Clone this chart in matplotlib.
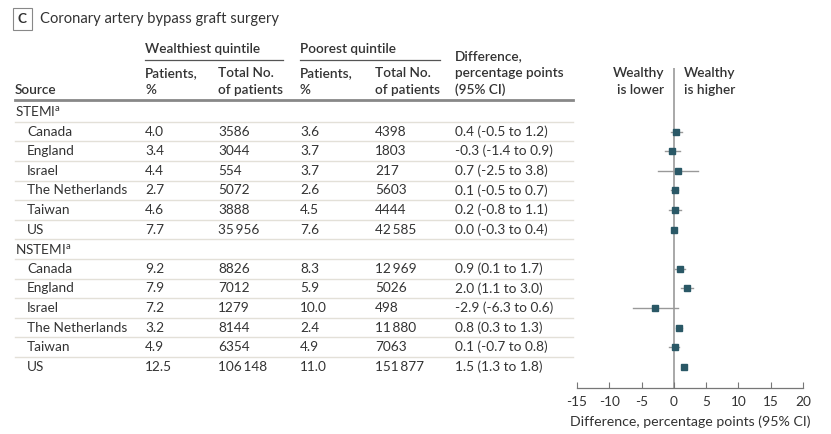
import matplotlib

matplotlib.use("Agg")

import matplotlib.pyplot as plt  # noqa: E402

plt.rcParams["font.family"] = ["Lato", "DejaVu Sans"]
plt.rcParams["mathtext.fontset"] = "custom"
plt.rcParams["mathtext.rm"] = "Lato"
plt.rcParams["axes.unicode_minus"] = False

TITLE = "Coronary artery bypass graft surgery"
groups = ["STEMI$^{\\mathrm{a}}$", "NSTEMI$^{\\mathrm{a}}$"]
countries = ["Canada", "England", "Israel", "The Netherlands", "Taiwan", "US"]

stemi_w_pct = ["4.0", "3.4", "4.4", "2.7", "4.6", "7.7"]
stemi_w_n = ["3586", "3044", "554", "5072", "3888", "35\u2009956"]
stemi_p_pct = ["3.6", "3.7", "3.7", "2.6", "4.5", "7.6"]
stemi_p_n = ["4398", "1803", "217", "5603", "4444", "42\u2009585"]
stemi_diff = [0.4, -0.3, 0.7, 0.1, 0.2, 0.0]
stemi_lo = [-0.5, -1.4, -2.5, -0.5, -0.8, -0.3]
stemi_hi = [1.2, 0.9, 3.8, 0.7, 1.1, 0.4]

nstemi_w_pct = ["9.2", "7.9", "7.2", "3.2", "4.9", "12.5"]
nstemi_w_n = ["8826", "7012", "1279", "8144", "6354", "106\u2009148"]
nstemi_p_pct = ["8.3", "5.9", "10.0", "2.4", "4.9", "11.0"]
nstemi_p_n = ["12\u2009969", "5026", "498", "11\u2009880", "7063", "151\u2009877"]
nstemi_diff = [0.9, 2.0, -2.9, 0.8, 0.1, 1.5]
nstemi_lo = [0.1, 1.1, -6.3, 0.3, -0.7, 1.3]
nstemi_hi = [1.7, 3.0, 0.6, 1.3, 0.8, 1.8]

x_ticks = [-15, -10, -5, 0, 5, 10, 15, 20]

# layout (pixels)
W, H = 831, 434
ROW0, DY = 112, 19.6
COLS = [145, 218, 300, 375, 455]
TXT = "#333333"
SEP = "#e3e0d8"
MARK = "#2a5866"
FS = 9.8


def fmt_ci(d, lo, hi):
    return f"{d:.1f} ({lo:.1f} to {hi:.1f})"


fig = plt.figure(figsize=(W / 100, H / 100), dpi=100)
tab = fig.add_axes([0, 0, 1, 1])
tab.set_xlim(0, W)
tab.set_ylim(H, 0)
tab.axis("off")

# panel title
tab.text(22.5, 19, "C", ha="center", va="center", fontsize=FS, fontweight="bold",
         color=TXT, bbox=dict(boxstyle="square,pad=0.35", fc="white", ec="#888", lw=0.8))
tab.text(40, 19, TITLE, ha="left", va="center", fontsize=10.6, color=TXT)

# column headers
hdr = dict(fontsize=FS, fontweight="semibold", color=TXT, ha="left", va="center")
tab.text(COLS[0], 49, "Wealthiest quintile", **hdr)
tab.text(COLS[2], 49, "Poorest quintile", **hdr)
tab.plot([COLS[0], 283], [60, 60], color="#555", lw=0.9)
tab.plot([COLS[2], 440], [60, 60], color="#555", lw=0.9)
tab.text(15, 90, "Source", **hdr)
for cx in (COLS[0], COLS[2]):
    tab.text(cx, 73, "Patients,", **hdr)
    tab.text(cx, 90, "%", **hdr)
for cx in (COLS[1], COLS[3]):
    tab.text(cx, 73, "Total No.", **hdr)
    tab.text(cx, 90, "of patients", **hdr)
tab.text(COLS[4], 56, "Difference,", **hdr)
tab.text(COLS[4], 73, "percentage points", **hdr)
tab.text(COLS[4], 90, "(95% CI)", **hdr)
tab.plot([15, 573], [100, 100], color="#888", lw=2)

tab.text(664, 73, "Wealthy", **{**hdr, "ha": "right"})
tab.text(664, 90, "is lower", **{**hdr, "ha": "right"})
tab.text(684, 73, "Wealthy", **hdr)
tab.text(684, 90, "is higher", **hdr)

blocks = [
    (groups[0], stemi_w_pct, stemi_w_n, stemi_p_pct, stemi_p_n, stemi_diff, stemi_lo, stemi_hi),
    (groups[1], nstemi_w_pct, nstemi_w_n, nstemi_p_pct, nstemi_p_n, nstemi_diff, nstemi_lo, nstemi_hi),
]

# forest axes, y in row units
ax = fig.add_axes([577 / W, (H - 388) / H, 226 / W, (388 - 68) / H])
ax.set_xlim(-15, 20)
ax.set_ylim((388 - ROW0) / DY, (68 - ROW0) / DY)

row = 0
for name, wp, wn, pp, pn, d, lo, hi in blocks:
    y = ROW0 + row * DY
    tab.text(15, y, name, fontsize=FS, color=TXT, ha="left", va="center")
    if row > 0:
        tab.plot([15, 573], [y - DY / 2, y - DY / 2], color=SEP, lw=1)
    row += 1
    for i, c in enumerate(countries):
        y = ROW0 + row * DY
        tab.plot([15, 573], [y - DY / 2, y - DY / 2], color=SEP, lw=1)
        vals = [wp[i], wn[i], pp[i], pn[i], fmt_ci(d[i], lo[i], hi[i])]
        tab.text(27, y, c, fontsize=FS, color=TXT, ha="left", va="center")
        for cx, v in zip(COLS, vals):
            tab.text(cx, y, v, fontsize=FS, color=TXT, ha="left", va="center")
        ax.plot([lo[i], hi[i]], [row, row], color="#999", lw=1, zorder=2)
        ax.plot(d[i], row, marker="s", ms=4.8, color=MARK, zorder=3, lw=0)
        row += 1

ax.axvline(0, color="#999", lw=1.2, zorder=1)
for s in ("top", "right", "left"):
    ax.spines[s].set_visible(False)
ax.spines["bottom"].set_color("#777")
ax.spines["bottom"].set_linewidth(0.9)
ax.set_yticks([])
ax.set_xticks(x_ticks)
ax.tick_params(axis="x", direction="in", length=4, color="#777", labelsize=FS,
               labelcolor=TXT, pad=6)
ax.set_xlabel("Difference, percentage points (95% CI)", fontsize=10.2, color=TXT, labelpad=5)
ax.patch.set_alpha(0)

fig.savefig("out.png", dpi=100)
